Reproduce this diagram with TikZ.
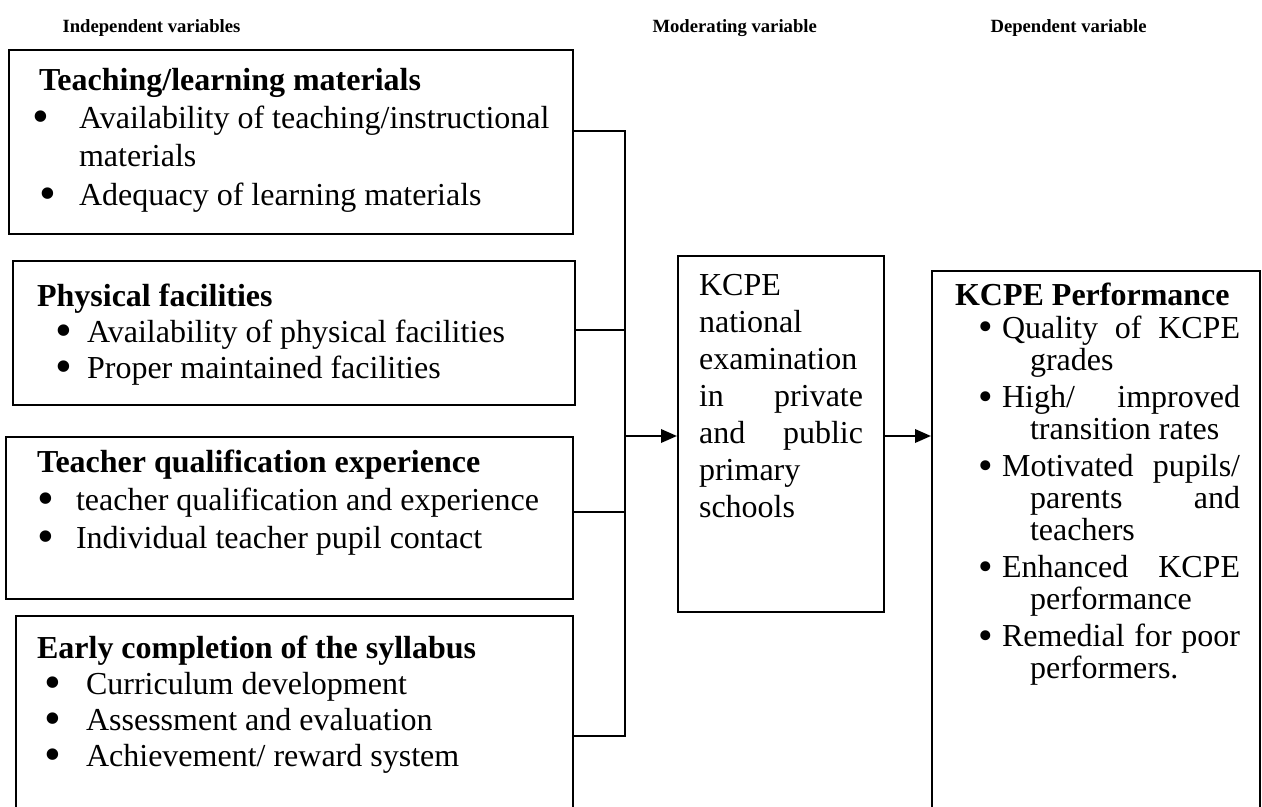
\documentclass[tikz,border=0pt]{standalone}
\usepackage{fontspec}
\usepackage{graphicx}
\setmainfont{Liberation Serif}
\usetikzlibrary{arrows.meta,positioning}

% one pixel of the layout grid
\newdimen\px \px=0.375pt
% box body: width, height, left pad, first baseline, text
\newcommand{\boxbody}[5]{%
  \begin{minipage}[t][#2\px][t]{#1\px}%
  \leftskip=#3\px\rightskip=0pt plus 1fil\parindent=0pt
  \rule{0pt}{#4\px}#5%
  \end{minipage}}
% list bullet, no width of its own
\newcommand{\blt}{\makebox[0pt][l]{\hspace{-2.3pt}%
  \raisebox{-0.12em}{\scalebox{1.5}{\textbullet}}}}
% bullet line: bullet offset, text offset, hang, text
\newcommand{\itm}[4]{\par\hangindent=#3\px\hangafter=1\noindent
  \makebox[#2\px][l]{\hspace{#1\px}\blt}#4\par}

\begin{document}
\begin{tikzpicture}[
  x=0.375pt, y=-0.375pt,
  factor/.style={draw, line width=0.8pt, inner sep=0pt, anchor=north west,
    font=\fontsize{12}{14.4}\selectfont},
  tag/.style={font=\fontsize{7}{8}\selectfont\bfseries, anchor=base west,
    inner sep=0pt},
  link/.style={line width=0.9pt},
  arrow/.style={link, -{Triangle[length=6pt,width=5pt]}}
]
\useasboundingbox (0,0) rectangle (1262,806);

% column headings
\node[tag] (indep) at (62,33) {Independent variables};
\node[tag] (moder) at (652,33) {Moderating variable};
\node[tag] (depen) at (990,33) {Dependent variable};

% independent variables
\node[factor] (b1) at (8,49) {\boxbody{564}{184}{30}{40}{%
  \textbf{Teaching/learning materials}
  \itm{0}{40}{40}{Availability of teaching/instructional\\materials}
  \itm{7}{40}{40}{Adequacy of learning materials}}};
\node[factor] (b2) at (12,260) {\boxbody{562}{144}{24}{45}{%
  \fontsize{12}{13.6}\selectfont
  \textbf{Physical facilities}
  \itm{25}{50}{50}{Availability of physical facilities}
  \itm{25}{50}{50}{Proper maintained facilities}}};
\node[factor] (b3) at (5,436) {\boxbody{567}{162}{31}{35}{%
  \textbf{Teacher qualification experience}
  \itm{7}{39}{39}{teacher qualification and experience}
  \itm{7}{39}{39}{Individual teacher pupil contact}}};
\node[factor] (b4) at (15,615) {\boxbody{557}{215}{21}{42}{%
  \fontsize{12}{13.6}\selectfont
  \textbf{Early completion of the syllabus}
  \itm{14}{49}{49}{Curriculum development}
  \itm{14}{49}{49}{Assessment and evaluation}
  \itm{14}{49}{49}{Achievement/ reward system}}};

% moderating variable
\node[factor] (mod) at (677,255) {\boxbody{206}{356}{21}{39}{%
  \fontsize{12}{13.9}\selectfont\rightskip=21\px
  KCPE\\ national\\ examination\\ in private\linebreak
  and public\linebreak primary\\ schools}};

% dependent variable
\node[factor] (dep) at (931,270) {\boxbody{328}{560}{23}{34}{%
  \fontsize{12}{12}\selectfont\rightskip=20\px
  \renewcommand{\blt}{\makebox[0pt][l]{\hspace{-1.2pt}%
    \raisebox{-0.08em}{\scalebox{1.3}{\textbullet}}}}%
  \textbf{KCPE Performance}\vspace{0.5pt}
  \itm{27}{47}{75}{Quality of KCPE\linebreak grades}\vspace{1.9pt}
  \itm{27}{47}{75}{High/ improved\linebreak transition rates}\vspace{1.9pt}
  \itm{27}{47}{75}{Motivated pupils/\linebreak parents and\linebreak teachers}\vspace{1.9pt}
  \itm{27}{47}{75}{Enhanced KCPE\linebreak performance}\vspace{1.9pt}
  \itm{27}{47}{75}{Remedial for poor\linebreak performers.}}};

% bus joining the four factors
\coordinate (bustop) at (625,131);
\coordinate (busbot) at (625,736);
\coordinate (join) at (625,436);
\draw[link] (b1.east |- bustop) -- (bustop) -- (busbot) -- (b4.east |- busbot);
\draw[link] (b2.east |- 0,330) -- (625,330);
\draw[link] (b3.east |- 0,512) -- (625,512);
\draw[arrow] (join) -- (mod.west |- join);
\draw[arrow] (mod.east |- join) -- (dep.west |- join);
\end{tikzpicture}
\end{document}
